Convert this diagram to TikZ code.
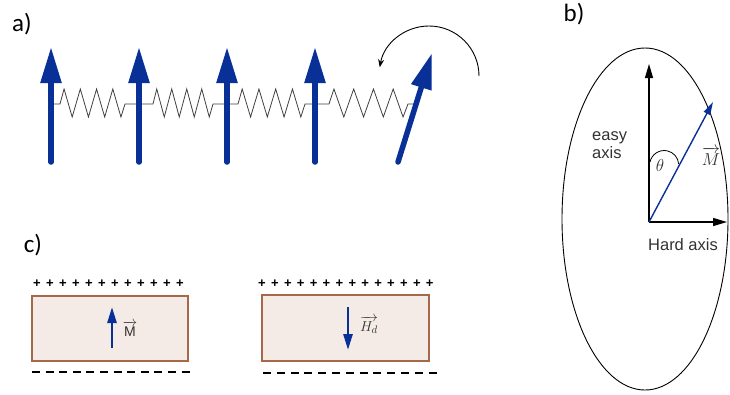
\documentclass[tikz,border=0pt]{standalone}
\usepackage{fontspec}
\usepackage{amsmath}
\setmainfont{Liberation Sans}
\newfontfamily\labfont{Carlito}
\usetikzlibrary{arrows.meta}
\definecolor{spinblue}{RGB}{8,48,150}
\definecolor{boxfill}{RGB}{244,234,230}
\definecolor{boxedge}{RGB}{166,104,72}
\definecolor{txtgray}{RGB}{50,50,50}
\tikzset{
  bigarrow/.style={spinblue, line width=5.5pt, line cap=round, -{Triangle[length=36pt,width=20pt]}},
  springline/.style={black!75, line width=0.8pt, line join=miter},
  axisarrow/.style={black, line width=1.3pt, -{Triangle[length=14pt,width=8pt]}},
  marrow/.style={spinblue, line width=1.4pt, -{Triangle[length=13pt,width=7pt]}},
  smallarrow/.style={spinblue, line width=2.6pt, -{Triangle[length=16pt,width=9pt]}},
  panellabel/.style={font=\labfont\fontsize{25}{27}\selectfont, inner sep=0pt},
  slab/.style={fill=boxfill, draw=boxedge, line width=1.2pt},
  chargeplus/.style={font=\bfseries\fontsize{13}{13}\selectfont, inner sep=0pt},
  chargeminus/.style={line width=1.8pt},
  axislabel/.style={font=\fontsize{16.5}{19}\selectfont, text=txtgray, inner sep=0pt},
  mathlabel/.style={text=txtgray, inner sep=0pt}
}
\newcommand\zigspring[4]{%
  \draw[springline] (#1,104) -- (#2,104)
  \foreach \i/\yy in {0/89,1/117,2/89,3/117,4/89,5/117,6/89,7/117} { -- ({#2+(\i+0.5)*(#3-#2)/8},\yy) }
  -- (#3,104) -- (#4,104);}
\begin{document}
\begin{tikzpicture}[x=1pt,y=1pt,yscale=-1]
\useasboundingbox (0,0) rectangle (730,394);
% ---- panel a
\node[panellabel] (la) at (22,24) {a)};
\zigspring{51}{60}{125}{139}
\zigspring{139}{153}{213}{227}
\zigspring{227}{238}{305}{315}
\zigspring{315}{329}{408}{416}
\draw[bigarrow] (51,162) -- (51,47);
\draw[bigarrow] (139,162) -- (139,47);
\draw[bigarrow] (227,162) -- (227,47);
\draw[bigarrow] (315,162) -- (315,47);
\draw[bigarrow] (398,162) -- (432,53);
\draw[black, line width=0.9pt, -{Stealth[length=8pt,width=6pt]}] (479,76) arc[start angle=0, end angle=-170, radius=50];
% ---- panel b
\node[panellabel] (lb) at (574,14) {b)};
\draw[black, line width=0.9pt] (645,219) ellipse[x radius=83, y radius=171];
\coordinate (o) at (649,222);
\draw[axisarrow] (o) -- (649,64);
\draw[axisarrow] (o) -- (727,222);
\draw[marrow] (o) -- (713,102);
\draw[black, line width=0.8pt] (650,162) arc[start angle=-168, end angle=-4, radius=14.5];
\node[mathlabel, font=\fontsize{16}{16}\selectfont] (th) at (660,165) {$\theta$};
\node[mathlabel, font=\fontsize{16}{16}\selectfont] (mv) at (711,156) {$\overrightarrow{M}$};
\node[axislabel, anchor=west, align=left] (easy) at (592,145) {easy\\[-1pt]axis};
\node[axislabel] (hard) at (683,245) {Hard axis};
% ---- panel c
\node[panellabel] (lc) at (33,245) {c)};
\draw[slab] (32,296) rectangle (188,361);
\draw[slab] (262,295) rectangle (429,361);
\foreach \i in {0,...,11} \node[chargeplus] (pl\i) at ({37+13*\i},284) {+};
\foreach \i in {0,...,13} \node[chargeplus] (pr\i) at ({262+12.9*\i},284) {+};
\draw[chargeminus, dash pattern=on 8pt off 5.6pt] (32,372) -- (190,372);
\draw[chargeminus, dash pattern=on 8pt off 5.8pt] (263,373) -- (437,373);
\draw[smallarrow] (112,348) -- (112,307);
\draw[smallarrow] (348,307) -- (348,350);
\node[mathlabel, font=\fontsize{14}{14}\selectfont] (mb) at (130,329) {$\overrightarrow{\mathrm{M}}$};
\node[mathlabel, font=\fontsize{15}{15}\selectfont] (hd) at (369,325) {$\overrightarrow{H_d}$};
\end{tikzpicture}
\end{document}
